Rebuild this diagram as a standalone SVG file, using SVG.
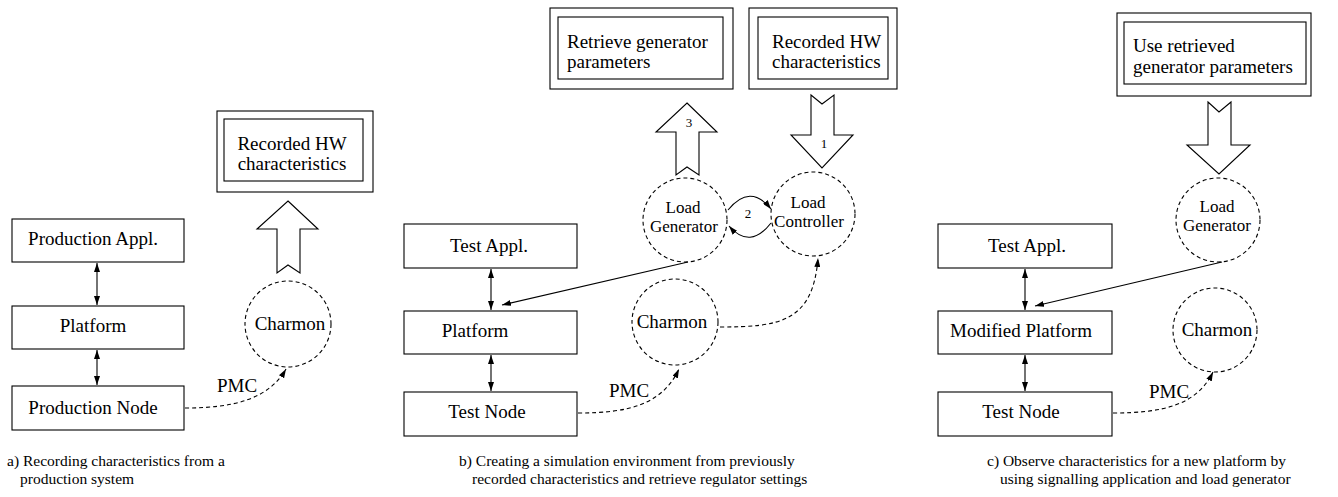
<svg xmlns="http://www.w3.org/2000/svg" width="1338" height="497" viewBox="0 0 1338 497">
<defs>
<style>
text{font-family:"Liberation Serif","Times New Roman",serif;fill:#000}
.t{font-size:19px}
.c{font-size:17px}
.m{text-anchor:middle}
.s{font-size:13px}
.cap{font-size:15.5px}
.box{fill:#fff;stroke:#000;stroke-width:1.1}
.circ{fill:none;stroke:#000;stroke-width:1.1;stroke-dasharray:4 3}
.big{fill:#fff;stroke:#000;stroke-width:1.1;stroke-linejoin:miter}
.ln{fill:none;stroke:#000;stroke-width:1.1}
.dl{fill:none;stroke:#000;stroke-width:1.1;stroke-dasharray:4 3}
</style>
<marker id="ah" markerUnits="userSpaceOnUse" markerWidth="9" markerHeight="6" refX="9" refY="3" orient="auto-start-reverse"><path d="M0,0 L9,3 L0,6 z" fill="#000"/></marker>
</defs>
<rect width="1338" height="497" fill="#fff"/>

<!-- Panel a -->
<g id="a-prodappl"><rect class="box" x="12" y="219" width="172" height="43"/><text class="t m" x="93" y="245">Production Appl.</text></g>
<g id="a-platform"><rect class="box" x="12" y="306" width="172" height="43"/><text class="t m" x="93" y="332">Platform</text></g>
<g id="a-prodnode"><rect class="box" x="12" y="386" width="172" height="44"/><text class="t m" x="93" y="414">Production Node</text></g>
<g id="a-charmon"><circle class="circ" cx="288" cy="324" r="43"/><text class="t m" x="290" y="330">Charmon</text></g>
<g id="a-recorded"><rect class="box" x="217" y="111" width="156" height="81"/><rect class="box" x="224" y="119" width="139" height="62"/><text class="t m" x="292" y="150">Recorded HW</text><text class="t m" x="292" y="170">characteristics</text></g>

<!-- Panel b -->
<g id="b-testappl"><rect class="box" x="404" y="224" width="173" height="44"/><text class="t m" x="489" y="252">Test Appl.</text></g>
<g id="b-platform"><rect class="box" x="404" y="311" width="173" height="43"/><text class="t m" x="475" y="337">Platform</text></g>
<g id="b-testnode"><rect class="box" x="404" y="392" width="173" height="44"/><text class="t m" x="487" y="418">Test Node</text></g>
<g id="b-charmon"><circle class="circ" cx="675" cy="322" r="43"/><text class="t m" x="672" y="328">Charmon</text></g>
<g id="b-loadgen"><circle class="circ" cx="685" cy="220" r="42"/><text class="c m" x="683" y="213">Load</text><text class="c m" x="684" y="232">Generator</text></g>
<g id="b-loadctrl"><circle class="circ" cx="813" cy="214" r="42"/><text class="c m" x="808" y="208">Load</text><text class="c m" x="809" y="227">Controller</text></g>
<g id="b-retrieve"><rect class="box" x="550" y="8" width="183" height="81"/><rect class="box" x="558" y="17" width="165" height="62"/><text class="t" x="567" y="48">Retrieve generator</text><text class="t" x="567" y="68">parameters</text></g>
<g id="b-recorded"><rect class="box" x="749" y="8" width="148" height="81"/><rect class="box" x="758" y="17" width="130" height="62"/><text class="t" x="772" y="48">Recorded HW</text><text class="t" x="772" y="68">characteristics</text></g>

<!-- Panel c -->
<g id="c-testappl"><rect class="box" x="938" y="224" width="174" height="44"/><text class="t m" x="1027" y="252">Test Appl.</text></g>
<g id="c-modplatform"><rect class="box" x="938" y="311" width="174" height="43"/><text class="t m" x="1021" y="337">Modified Platform</text></g>
<g id="c-testnode"><rect class="box" x="938" y="392" width="174" height="44"/><text class="t m" x="1021" y="418">Test Node</text></g>
<g id="c-charmon"><circle class="circ" cx="1215" cy="330" r="42"/><text class="t m" x="1217" y="336">Charmon</text></g>
<g id="c-loadgen"><circle class="circ" cx="1218" cy="220" r="42"/><text class="c m" x="1217" y="212">Load</text><text class="c m" x="1217" y="231">Generator</text></g>
<g id="c-use"><rect class="box" x="1117" y="13" width="194" height="83"/><rect class="box" x="1124" y="22" width="182" height="62"/><text class="t" x="1133" y="52">Use retrieved</text><text class="t" x="1133" y="73">generator parameters</text></g>

<!-- Connectors -->
<g id="connectors">
<line class="ln" x1="97" y1="263" x2="97" y2="305" marker-start="url(#ah)" marker-end="url(#ah)"/>
<line class="ln" x1="97" y1="350" x2="97" y2="385" marker-start="url(#ah)" marker-end="url(#ah)"/>
<path class="dl" d="M185,408 C232,408 268,400 286,369" marker-end="url(#ah)"/>
<text class="t" x="217" y="392">PMC</text>
<polygon class="big" points="288,201 318,229 300,229 300,273 288,265 277,273 277,229 257,229"/>

<line class="ln" x1="491" y1="269" x2="491" y2="310" marker-start="url(#ah)" marker-end="url(#ah)"/>
<line class="ln" x1="491" y1="355" x2="491" y2="391" marker-start="url(#ah)" marker-end="url(#ah)"/>
<path class="dl" d="M578,413 C628,413 662,405 679,369" marker-end="url(#ah)"/>
<text class="t" x="609" y="397">PMC</text>
<path class="dl" d="M720,327 C780,327 813,322 818,258" marker-end="url(#ah)"/>
<line class="ln" x1="688" y1="262" x2="502" y2="305" marker-end="url(#ah)"/>
<path class="ln" d="M728,210 Q750,183 771,209" marker-end="url(#ah)"/>
<path class="ln" d="M771,223 Q750,250 729,226" marker-end="url(#ah)"/>
<text class="s m" x="748" y="218">2</text>
<polygon class="big" points="687,103 717,132 699,132 699,175 687,167 676,175 676,132 656,132"/>
<text class="s m" x="689" y="127">3</text>
<polygon class="big" points="811,95 822,104 834,95 834,135 853,135 822,168 791,135 811,135"/>
<text class="s m" x="824" y="148">1</text>

<line class="ln" x1="1025" y1="269" x2="1025" y2="310" marker-start="url(#ah)" marker-end="url(#ah)"/>
<line class="ln" x1="1025" y1="355" x2="1025" y2="391" marker-start="url(#ah)" marker-end="url(#ah)"/>
<path class="dl" d="M1113,413 C1163,413 1197,405 1213,372" marker-end="url(#ah)"/>
<text class="t" x="1149" y="398">PMC</text>
<line class="ln" x1="1222" y1="262" x2="1035" y2="306" marker-end="url(#ah)"/>
<polygon class="big" points="1208,102 1219,112 1231,102 1231,145 1250,145 1219,174 1187,145 1208,145"/>
</g>

<!-- Captions -->
<text class="cap" x="7" y="466">a) Recording characteristics from a</text>
<text class="cap" x="20" y="484">production system</text>
<text class="cap" x="459" y="466">b) Creating a simulation environment from previously</text>
<text class="cap" x="472" y="484">recorded characteristics and retrieve regulator settings</text>
<text class="cap" x="987" y="466">c) Observe characteristics for a new platform by</text>
<text class="cap" x="1000" y="484">using signalling application and load generator</text>
</svg>
